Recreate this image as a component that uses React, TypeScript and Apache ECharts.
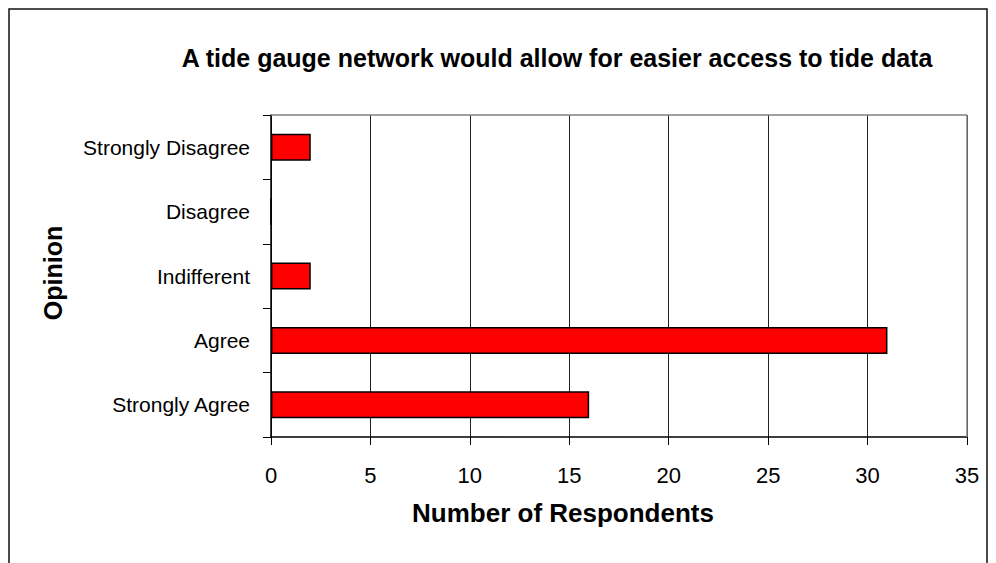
import React, { useEffect, useRef } from "react";
import * as echarts from "echarts";

const categories = ["Strongly Disagree", "Disagree", "Indifferent", "Agree", "Strongly Agree"];
const respondents = [2, 0, 2, 31, 16];
const titleText = "A tide gauge network would allow for easier access to tide data";
const xAxisTitle = "Number of Respondents";
const yAxisTitle = "Opinion";

const FONT = "'Liberation Sans', Arial, sans-serif";

export default function App() {
  const ref = useRef<HTMLDivElement>(null);
  useEffect(() => {
    if (!ref.current) return;
    const chart = echarts.init(ref.current, null, { renderer: "svg" });
    const gridLeft = 271, gridTop = 115, gridRight = 967, gridBottom = 437;
    chart.setOption({
      animation: false,
      backgroundColor: "#ffffff",
      title: {
        text: titleText,
        left: 552,
        textAlign: "center",
        top: 40,
        textStyle: { fontFamily: FONT, fontSize: 25, fontWeight: "bold", color: "#000" },
      },
      grid: {
        left: gridLeft,
        top: gridTop,
        right: 996 - gridRight,
        bottom: 563 - gridBottom,
        containLabel: false,
      },
      xAxis: {
        type: "value",
        min: 0,
        max: 35,
        interval: 5,
        axisLine: { show: true, lineStyle: { color: "#000", width: 1.5 } },
        axisTick: { show: true, length: 8, lineStyle: { color: "#000", width: 1 } },
        axisLabel: { fontFamily: FONT, fontSize: 22, color: "#000", margin: 27 },
        splitLine: { show: true, lineStyle: { color: "#222", width: 1 } },
      },
      yAxis: {
        type: "category",
        data: categories,
        inverse: true,
        axisLine: { show: true, lineStyle: { color: "#000", width: 1.5 } },
        axisTick: { show: true, length: 8, alignWithLabel: false, lineStyle: { color: "#000", width: 1 } },
        axisLabel: { fontFamily: FONT, fontSize: 21, color: "#000", margin: 21 },
        splitLine: { show: false },
      },
      series: [
        {
          type: "bar",
          data: respondents,
          barWidth: "42%",
          itemStyle: { color: "#ff0000", borderColor: "#000", borderWidth: 1.5 },
        },
      ],
      graphic: [
        {
          type: "line",
          z: 100,
          shape: { x1: gridLeft, y1: gridTop, x2: gridRight, y2: gridTop },
          style: { stroke: "#808080", lineWidth: 1.5 },
        },
        {
          type: "line",
          z: 100,
          shape: { x1: gridRight, y1: gridTop, x2: gridRight, y2: gridBottom },
          style: { stroke: "#808080", lineWidth: 1.5 },
        },
        {
          type: "rect",
          z: 100,
          shape: { x: 9, y: 9, width: 978, height: 600 },
          style: { fill: "none", stroke: "#111", lineWidth: 1.5 },
        },
        {
          type: "text",
          z: 100,
          x: 563,
          y: 513,
          style: {
            text: xAxisTitle,
            fontFamily: FONT,
            fontSize: 26,
            fontWeight: "bold",
            fill: "#000",
            align: "center",
            verticalAlign: "middle",
          },
        },
        {
          type: "text",
          z: 100,
          x: 53,
          y: 273,
          rotation: Math.PI / 2,
          style: {
            text: yAxisTitle,
            fontFamily: FONT,
            fontSize: 25,
            fontWeight: "bold",
            fill: "#000",
            align: "center",
            verticalAlign: "middle",
          },
        },
      ],
    });
    return () => chart.dispose();
  }, []);
  return (
    <div
      ref={ref}
      style={{ position: "fixed", left: 0, top: 0, width: 996, height: 563, background: "#fff" }}
    />
  );
}
